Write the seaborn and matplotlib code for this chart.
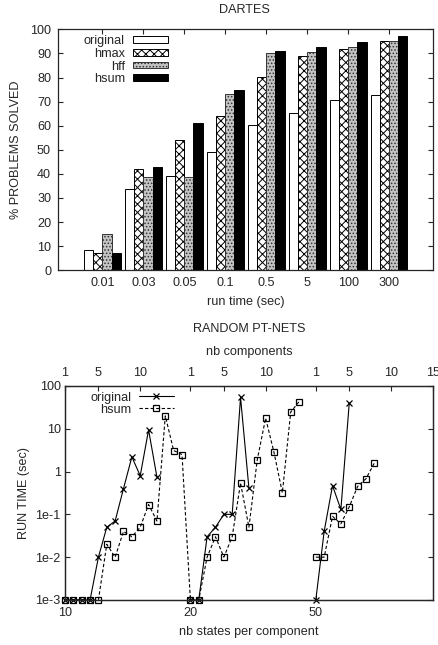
import numpy as np
import pandas as pd
import seaborn as sns
import matplotlib
matplotlib.use("Agg")
import matplotlib.pyplot as plt
from matplotlib.lines import Line2D

# --- DARTES: % problems solved per run time limit ---
run_times = ["0.01", "0.03", "0.05", "0.1", "0.5", "5", "100", "300"]
heuristics = ["original", "hmax", "hff", "hsum"]
solved_original = [8.5, 33.7, 39.3, 49.0, 60.4, 65.3, 70.8, 72.7]
solved_hmax = [7.3, 42.0, 53.9, 64.0, 80.2, 89.0, 92.0, 95.0]
solved_hff = [15.2, 38.6, 38.6, 73.3, 90.3, 90.6, 92.6, 95.0]
solved_hsum = [7.3, 42.9, 61.0, 74.7, 91.0, 92.6, 94.6, 97.2]

# --- random PT-nets: run time per nb components, for 3 nb states per component ---
nb_states = ["10", "20", "50"]
comp_ticks = [1, 5, 10]
max_components = 15
original_10 = [1e-3, 1e-3, 1e-3, 1e-3, 0.01, 0.05, 0.07, 0.4, 2.2, 0.8, 9.4, 0.74]
original_20 = [1e-3, 1e-3, 0.03, 0.05, 0.1, 0.1, 54, 0.41]
original_50 = [1e-3, 0.04, 0.47, 0.13, 40]
hsum_10 = [1e-3, 1e-3, 1e-3, 1e-3, 1e-3, 0.02, 0.01, 0.04, 0.03, 0.05, 0.17, 0.07, 20, 3.1, 2.5]
hsum_20 = [1e-3, 1e-3, 0.01, 0.03, 0.01, 0.03, 0.54, 0.05, 1.9, 17.7, 2.8, 0.32, 24.6, 43]
hsum_50 = [0.01, 0.01, 0.09, 0.06, 0.15, 0.45, 0.68, 1.58]

FS = 9.1
sns.set_theme(style="ticks", rc={"font.size": FS, "axes.labelsize": FS,
                                 "xtick.labelsize": FS, "ytick.labelsize": FS,
                                 "legend.fontsize": FS, "axes.linewidth": 0.9,
                                 "hatch.linewidth": 0.7})
plt.rcParams["font.family"] = ["Liberation Sans", "DejaVu Sans"]

fig = plt.figure(figsize=(4.39, 6.45), dpi=100)

# ---------------- top: bar chart ----------------
ax1 = fig.add_axes([0.132, 0.581, 0.854, 0.3735])
bars = pd.DataFrame({
    "run time": run_times * 4,
    "solved": solved_original + solved_hmax + solved_hff + solved_hsum,
    "heuristic": np.repeat(heuristics, len(run_times)),
})
palette = {"original": "white", "hmax": "white", "hff": "#c4c4c4", "hsum": "black"}
sns.barplot(data=bars, x="run time", y="solved", hue="heuristic", order=run_times,
            hue_order=heuristics, palette=palette, saturation=1, width=0.9,
            edgecolor="black", linewidth=0.7, legend=False, ax=ax1)

hatches = ["", "xxxx", ".....", ""]
edges = ["black", "black", "#333333", "black"]
for cont, h, ec in zip(ax1.containers, hatches, edges):
    for p in cont.patches:
        p.set_hatch(h)
        p.set_edgecolor(ec)

ax1.set_ylim(0, 100)
ax1.set_xlim(-1.085, 8.07)
ax1.set_yticks(range(0, 101, 10))
ax1.set_xlabel("run time (sec)", labelpad=5)
ax1.set_ylabel("% PROBLEMS SOLVED", labelpad=6)
ax1.tick_params(direction="in", top=True, right=True, length=3.5, width=0.8, pad=5)
ax1.legend([c.patches[0] for c in ax1.containers], heuristics, loc="upper right",
           bbox_to_anchor=(0.322, 1.02), frameon=False, markerfirst=False,
           handlelength=2.8, handleheight=0.45, labelspacing=0.05,
           borderpad=0.35, handletextpad=0.6)
fig.text(0.556, 1 - 10 / 645, "DARTES", ha="center", va="center", fontsize=FS)

# ---------------- bottom: run times ----------------
rows = []
for name, series in [("original", [original_10, original_20, original_50]),
                     ("hsum", [hsum_10, hsum_20, hsum_50])]:
    for s, vals in enumerate(series):
        for c in range(1, max_components + 1):
            t = vals[c - 1] if c <= len(vals) else np.nan
            rows.append({"heuristic": name, "pos": s * max_components + c - 1, "time": t})
runs = pd.DataFrame(rows)
# break lines where a value is missing
runs["run"] = runs.groupby("heuristic")["time"].transform(lambda v: v.isna().cumsum())
runs = runs.dropna()

ax2 = fig.add_axes([0.148, 0.0698, 0.838, 0.3318])
styles = {
    "original": dict(marker="x", markersize=5, linestyle="-", markeredgewidth=0.9),
    "hsum": dict(marker="s", markersize=4.5, linestyle=(0, (3, 2)), markerfacecolor="none",
                 markeredgewidth=0.9),
}
for name in ["original", "hsum"]:
    sns.lineplot(data=runs[runs["heuristic"] == name], x="pos", y="time", units="run",
                 estimator=None, color="black", linewidth=0.8, clip_on=False,
                 markeredgecolor="black", ax=ax2, **styles[name])

ax2.set_yscale("log")
ax2.set_ylim(1e-3, 100)
ax2.set_xlim(0, 3 * max_components - 1)
ax2.set_yticks([1e-3, 1e-2, 1e-1, 1, 10, 100])
ax2.set_yticklabels(["1e-3", "1e-2", "1e-1", "1", "10", "100"])
ax2.yaxis.set_minor_locator(matplotlib.ticker.NullLocator())
ax2.set_xticks([s * max_components for s in range(len(nb_states))])
ax2.set_xticklabels(nb_states)
ax2.set_xlabel("nb states per component", labelpad=5)
ax2.set_ylabel("RUN TIME (sec)", labelpad=4)
ax2.tick_params(direction="in", right=True, length=3.5, width=0.8, pad=5)
ax2.tick_params(axis="y", pad=3)

top = ax2.twiny()
top.set_xlim(ax2.get_xlim())
top_pos, top_lab = [], []
for s in range(len(nb_states)):
    for c in comp_ticks:
        top_pos.append(s * max_components + c - 1)
        top_lab.append(str(c))
top_pos.append(3 * max_components - 1)
top_lab.append(str(max_components))
top.set_xticks(top_pos)
top.set_xticklabels(top_lab)
top.set_xlabel("nb components", labelpad=9)
top.tick_params(direction="in", length=3.5, width=0.8, pad=5)

handles = [Line2D([], [], color="black", linewidth=0.8, **styles[n]) for n in ["original", "hsum"]]
ax2.legend(handles, ["original", "hsum"], loc="upper right", bbox_to_anchor=(0.326, 1.023),
           frameon=False, markerfirst=False, handlelength=2.8, labelspacing=0.0,
           borderpad=0.35, handletextpad=0.6)
fig.text(0.567, 1 - 329 / 645, "RANDOM PT-NETS", ha="center", va="center", fontsize=FS)

fig.savefig("out.png", dpi=100)
